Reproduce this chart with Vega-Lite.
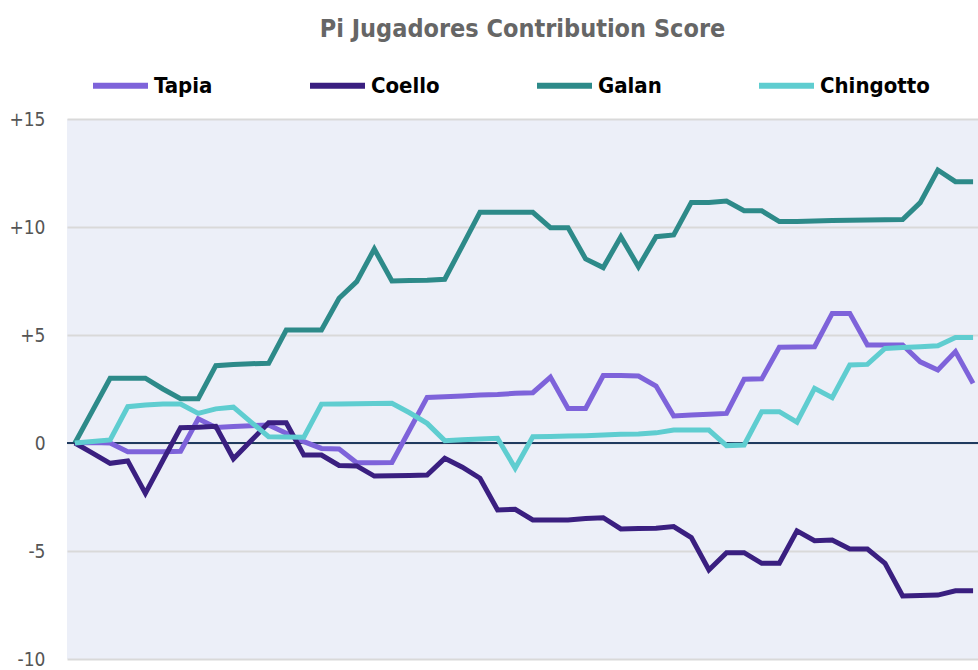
{
  "$schema": "https://vega.github.io/schema/vega-lite/v6.json",
  "width": 911,
  "height": 540,
  "autosize": {"type": "none"},
  "padding": {"left": 67, "top": 119, "right": 0, "bottom": 11},
  "background": "white",
  "title": {
    "text": "Pi Jugadores Contribution Score",
    "font": "DejaVu Sans Condensed, Roboto",
    "fontSize": 25,
    "fontWeight": "bold",
    "color": "#666666",
    "anchor": "middle",
    "offset": 13
  },
  "config": {"view": {"fill": "#ECEFF8", "stroke": null}},
  "data": {
    "values": [
      {"i": 0, "Tapia": 0, "Coello": 0, "Galan": 0, "Chingotto": 0},
      {"i": 1, "Tapia": 0.02, "Coello": -0.47, "Galan": 1.5, "Chingotto": 0.07},
      {"i": 2, "Tapia": 0.0, "Coello": -0.94, "Galan": 3.0, "Chingotto": 0.14},
      {"i": 3, "Tapia": -0.4, "Coello": -0.83, "Galan": 3.0, "Chingotto": 1.68},
      {"i": 4, "Tapia": -0.4, "Coello": -2.33, "Galan": 3.0, "Chingotto": 1.76},
      {"i": 5, "Tapia": -0.4, "Coello": -0.8, "Galan": 2.5, "Chingotto": 1.8},
      {"i": 6, "Tapia": -0.38, "Coello": 0.71, "Galan": 2.05, "Chingotto": 1.8},
      {"i": 7, "Tapia": 1.12, "Coello": 0.73, "Galan": 2.05, "Chingotto": 1.37},
      {"i": 8, "Tapia": 0.72, "Coello": 0.77, "Galan": 3.58, "Chingotto": 1.58},
      {"i": 9, "Tapia": 0.76, "Coello": -0.73, "Galan": 3.63, "Chingotto": 1.66},
      {"i": 10, "Tapia": 0.8, "Coello": 0.1, "Galan": 3.67, "Chingotto": 0.97},
      {"i": 11, "Tapia": 0.83, "Coello": 0.94, "Galan": 3.69, "Chingotto": 0.29},
      {"i": 12, "Tapia": 0.45, "Coello": 0.94, "Galan": 5.23, "Chingotto": 0.28},
      {"i": 13, "Tapia": 0.06, "Coello": -0.56, "Galan": 5.23, "Chingotto": 0.27},
      {"i": 14, "Tapia": -0.25, "Coello": -0.56, "Galan": 5.23, "Chingotto": 1.8},
      {"i": 15, "Tapia": -0.28, "Coello": -1.04, "Galan": 6.7, "Chingotto": 1.81},
      {"i": 16, "Tapia": -0.91, "Coello": -1.06, "Galan": 7.47, "Chingotto": 1.82},
      {"i": 17, "Tapia": -0.91, "Coello": -1.53, "Galan": 8.98, "Chingotto": 1.83},
      {"i": 18, "Tapia": -0.9, "Coello": -1.52, "Galan": 7.5, "Chingotto": 1.84},
      {"i": 19, "Tapia": 0.6, "Coello": -1.5, "Galan": 7.52, "Chingotto": 1.4},
      {"i": 20, "Tapia": 2.11, "Coello": -1.48, "Galan": 7.54, "Chingotto": 0.91},
      {"i": 21, "Tapia": 2.14, "Coello": -0.71, "Galan": 7.58, "Chingotto": 0.11},
      {"i": 22, "Tapia": 2.18, "Coello": -1.12, "Galan": 9.13, "Chingotto": 0.15},
      {"i": 23, "Tapia": 2.22, "Coello": -1.63, "Galan": 10.68, "Chingotto": 0.19},
      {"i": 24, "Tapia": 2.24, "Coello": -3.1, "Galan": 10.68, "Chingotto": 0.22},
      {"i": 25, "Tapia": 2.3, "Coello": -3.07, "Galan": 10.68, "Chingotto": -1.17},
      {"i": 26, "Tapia": 2.33, "Coello": -3.56, "Galan": 10.68, "Chingotto": 0.29},
      {"i": 27, "Tapia": 3.05, "Coello": -3.56, "Galan": 9.97, "Chingotto": 0.3},
      {"i": 28, "Tapia": 1.6, "Coello": -3.56, "Galan": 9.97, "Chingotto": 0.32},
      {"i": 29, "Tapia": 1.6, "Coello": -3.5, "Galan": 8.52, "Chingotto": 0.34},
      {"i": 30, "Tapia": 3.12, "Coello": -3.46, "Galan": 8.12, "Chingotto": 0.37},
      {"i": 31, "Tapia": 3.12, "Coello": -3.98, "Galan": 9.55, "Chingotto": 0.4},
      {"i": 32, "Tapia": 3.1, "Coello": -3.96, "Galan": 8.16, "Chingotto": 0.42},
      {"i": 33, "Tapia": 2.64, "Coello": -3.95, "Galan": 9.55, "Chingotto": 0.47},
      {"i": 34, "Tapia": 1.25, "Coello": -3.87, "Galan": 9.63, "Chingotto": 0.6},
      {"i": 35, "Tapia": 1.3, "Coello": -4.38, "Galan": 11.14, "Chingotto": 0.6},
      {"i": 36, "Tapia": 1.33, "Coello": -5.88, "Galan": 11.14, "Chingotto": 0.6},
      {"i": 37, "Tapia": 1.37, "Coello": -5.08, "Galan": 11.2, "Chingotto": -0.12},
      {"i": 38, "Tapia": 2.95, "Coello": -5.08, "Galan": 10.75, "Chingotto": -0.09},
      {"i": 39, "Tapia": 2.97, "Coello": -5.57, "Galan": 10.75, "Chingotto": 1.45},
      {"i": 40, "Tapia": 4.43, "Coello": -5.57, "Galan": 10.25, "Chingotto": 1.45},
      {"i": 41, "Tapia": 4.44, "Coello": -4.07, "Galan": 10.26, "Chingotto": 0.96},
      {"i": 42, "Tapia": 4.46, "Coello": -4.52, "Galan": 10.28, "Chingotto": 2.53},
      {"i": 43, "Tapia": 6.0, "Coello": -4.49, "Galan": 10.3, "Chingotto": 2.1},
      {"i": 44, "Tapia": 6.0, "Coello": -4.91, "Galan": 10.31, "Chingotto": 3.61},
      {"i": 45, "Tapia": 4.54, "Coello": -4.91, "Galan": 10.32, "Chingotto": 3.64},
      {"i": 46, "Tapia": 4.54, "Coello": -5.57, "Galan": 10.34, "Chingotto": 4.38},
      {"i": 47, "Tapia": 4.54, "Coello": -7.08, "Galan": 10.35, "Chingotto": 4.42},
      {"i": 48, "Tapia": 3.76, "Coello": -7.06, "Galan": 11.13, "Chingotto": 4.46},
      {"i": 49, "Tapia": 3.38, "Coello": -7.04, "Galan": 12.64, "Chingotto": 4.5},
      {"i": 50, "Tapia": 4.23, "Coello": -6.84, "Galan": 12.1, "Chingotto": 4.89},
      {"i": 51, "Tapia": 2.76, "Coello": -6.84, "Galan": 12.1, "Chingotto": 4.89}
    ]
  },
  "layer": [
    {
      "data": {"values": [{"z": 0}]},
      "mark": {"type": "rule", "color": "#1F3A5F", "strokeWidth": 2},
      "encoding": {"y": {"field": "z", "type": "quantitative"}}
    },
    {
      "transform": [{"fold": ["Tapia", "Coello", "Galan", "Chingotto"], "as": ["player", "score"]}],
      "mark": {"type": "line", "strokeWidth": 5},
      "encoding": {
        "x": {
          "field": "i",
          "type": "quantitative",
          "scale": {"domain": [-0.45, 51.28], "nice": false, "zero": false},
          "axis": null
        },
        "y": {
          "field": "score",
          "type": "quantitative",
          "scale": {"domain": [-10, 15], "nice": false},
          "axis": {
            "values": [-10, -5, 0, 5, 10, 15],
            "labelExpr": "datum.value > 0 ? '+' + datum.value : '' + datum.value",
            "grid": true,
            "gridColor": "#D9D9D9",
            "gridWidth": 2,
            "domain": false,
            "ticks": false,
            "labelFont": "DejaVu Sans Condensed, Roboto",
            "labelFontSize": 19,
            "labelColor": "#555555",
            "labelPadding": 22,
            "title": null
          }
        },
        "color": {
          "field": "player",
          "type": "nominal",
          "scale": {
            "domain": ["Tapia", "Coello", "Galan", "Chingotto"],
            "range": ["#7E63DA", "#3A1F80", "#2D8A89", "#5FCDD0"]
          },
          "legend": {
            "orient": "none",
            "legendX": 23,
            "legendY": -64,
            "direction": "horizontal",
            "title": null,
            "symbolType": "stroke",
            "symbolSize": 3025,
            "symbolStrokeWidth": 6,
            "labelFont": "DejaVu Sans Condensed, Roboto",
            "labelFontSize": 22,
            "labelFontWeight": "bold",
            "labelColor": "#000000",
            "labelOffset": 3,
            "labelLimit": 300,
            "columnPadding": 85
          }
        }
      }
    }
  ]
}
